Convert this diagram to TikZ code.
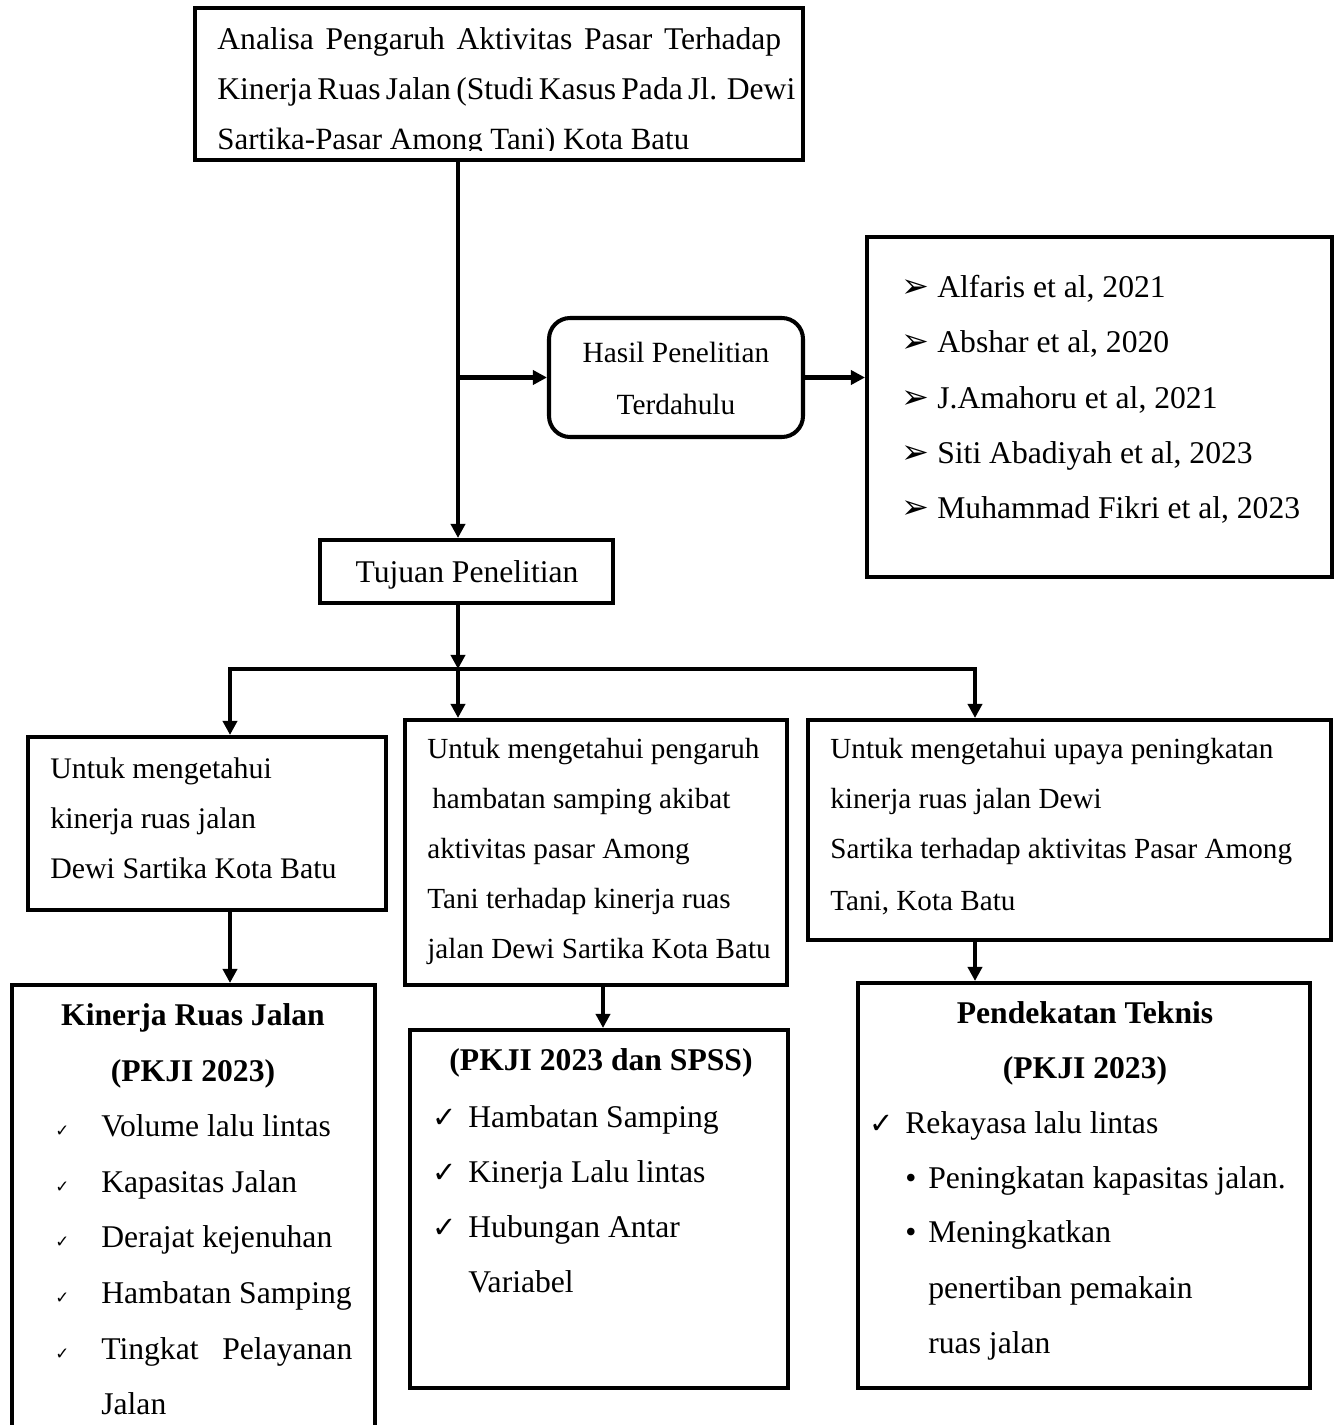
\documentclass[tikz,border=0pt]{standalone}
\usepackage{fontspec}
\setmainfont{Liberation Serif}
\newfontfamily\dejavu{DejaVu Sans}
\usetikzlibrary{arrows.meta,fit}
\newcommand{\ck}{{\dejavu\fontsize{16.5}{16}\selectfont ✓}}
\newcommand{\cks}{{\dejavu\fontsize{9.5}{10}\selectfont ✓}}
\newcommand{\arb}{{\dejavu\fontsize{19}{19}\selectfont ➢}}
\begin{document}
\begin{tikzpicture}[x=0.02cm,y=-0.02cm,
  box/.style={draw,line width=2.3pt,rectangle,inner sep=0pt},
  rbox/.style={box,rounded corners=12pt},
  txt/.style={anchor=base west,inner sep=0pt,font=\fontsize{18}{22}\selectfont},
  stxt/.style={anchor=base west,inner sep=0pt,font=\fontsize{16.6}{20}\selectfont},
  ctxt/.style={anchor=base,inner sep=0pt,font=\fontsize{18}{22}\selectfont},
  btxt/.style={anchor=base,inner sep=0pt,font=\fontsize{18}{22}\selectfont\bfseries},
  ln/.style={line width=2.3pt},
  arr/.style={line width=2.3pt,-{Triangle[length=8pt,width=8pt]}}]
\useasboundingbox (0,0) rectangle (1338,1425);

% boxes
\node[box,fit={(195,8) (803,160)}] (top) {};
\node[rbox,fit={(549,318) (803,437)}] (hasil) {};
\node[box,fit={(867,237) (1332,577)}] (refs) {};
\node[box,fit={(320,540) (613,603)}] (tujuan) {};
\node[box,fit={(28,737) (386,910)}] (left) {};
\node[box,fit={(405,720) (787,985)}] (mid) {};
\node[box,fit={(808,720) (1331,940)}] (right) {};
\node[box,fit={(12,985) (375,1460)}] (kin) {};
\node[box,fit={(410,1030) (788,1388)}] (pkji) {};
\node[box,fit={(858,983) (1310,1388)}] (pend) {};

% coordinates for connector columns
\coordinate (c1) at (458,0);
\coordinate (c2) at (230,0);
\coordinate (c3) at (603,0);
\coordinate (c4) at (975,0);
\coordinate (j) at (458,669);

% connectors
\draw[arr] (top.south -| c1) -- (tujuan.north -| c1);
\draw[arr] (hasil.west -| c1) -- (hasil.west);
\draw[arr] (hasil.east) -- (hasil.east -| refs.west);
\draw[arr] (tujuan.south -| c1) -- (j);
\draw[arr] (j) -| (left.north -| c2);
\draw[arr] (j) -| (right.north -| c4);
\draw[arr] (j) -- (mid.north -| c1);
\draw[arr] (left.south -| c2) -- (kin.north -| c2);
\draw[arr] (mid.south -| c3) -- (pkji.north -| c3);
\draw[arr] (right.south -| c4) -- (pend.north -| c4);

% top box text
\node[txt] (t1) at (217,50) {\makebox[11.28cm][s]{Analisa Pengaruh Aktivitas Pasar Terhadap}};
\node[txt] (t2) at (217,100) {\makebox[11.28cm][s]{Kinerja Ruas Jalan (Studi Kasus Pada Jl. Dewi}};
\begin{scope}
\clip (195,8) rectangle (803,151);
\node[txt,font=\fontsize{17.6}{22}\selectfont] (t3) at (217,150) {Sartika-Pasar Among Tani) Kota Batu};
\end{scope}

% hasil
\node[ctxt,font=\fontsize{16.7}{20}\selectfont] (h1) at (676,363) {Hasil Penelitian};
\node[ctxt,font=\fontsize{16.7}{20}\selectfont] (h2) at (676,414) {Terdahulu};

% refs
\foreach \y/\t [count=\i] in {298/{Alfaris et al, 2021},353/{Abshar et al, 2020},408/{J.Amahoru et al, 2021},463/{Siti Abadiyah et al, 2023},518/{Muhammad Fikri et al, 2023}}{
  \node[txt] (rb\i) at (901,\y) {\arb};
  \node[txt] (r\i) at (937,\y) {\t};
}

% tujuan
\node[ctxt] (tj) at (467,582) {Tujuan Penelitian};

% left box
\node[txt,font=\fontsize{17}{20}\selectfont] (l1) at (50,778) {Untuk mengetahui};
\node[txt,font=\fontsize{17}{20}\selectfont] (l2) at (50,828) {kinerja ruas jalan};
\node[txt,font=\fontsize{17}{20}\selectfont] (l3) at (50,878) {Dewi Sartika Kota Batu};

% middle box
\node[stxt] (m1) at (427,758) {Untuk mengetahui pengaruh};
\node[stxt] (m2) at (432,808) {hambatan samping akibat};
\node[stxt] (m3) at (427,858) {aktivitas pasar Among};
\node[stxt] (m4) at (427,908) {Tani terhadap kinerja ruas};
\node[stxt] (m5) at (427,958) {jalan Dewi Sartika Kota Batu};

% right box
\node[stxt] (q1) at (830,758) {Untuk mengetahui upaya peningkatan};
\node[stxt] (q2) at (830,808) {kinerja ruas jalan Dewi};
\node[stxt] (q3) at (830,858) {Sartika terhadap aktivitas Pasar Among};
\node[stxt] (q4) at (830,910) {Tani, Kota Batu};

% kinerja box
\node[btxt] (k0) at (193,1025) {Kinerja Ruas Jalan};
\node[btxt] (k00) at (193,1081) {(PKJI 2023)};
\foreach \y/\t [count=\i] in {1136/{Volume lalu lintas},1192/{Kapasitas Jalan},1247/{Derajat kejenuhan},1303/{Hambatan Samping}}{
  \node[txt] (kc\i) at (55,\y) {\cks};
  \node[txt] (k\i) at (101,\y) {\t};
}
\node[txt] (kc5) at (55,1359) {\cks};
\node[txt] (k5) at (101,1359) {\makebox[5.02cm][s]{Tingkat Pelayanan}};
\node[txt] (k6) at (101,1414) {Jalan};

% pkji box
\node[btxt] (p0) at (601,1070) {(PKJI 2023 dan SPSS)};
\foreach \y/\t [count=\i] in {1127/{Hambatan Samping},1182/{Kinerja Lalu lintas},1237/{Hubungan Antar}}{
  \node[txt] (pc\i) at (432,\y) {\ck};
  \node[txt] (p\i) at (468,\y) {\t};
}
\node[txt] (p4) at (468,1292) {Variabel};

% pendekatan box
\node[btxt] (d0) at (1085,1023) {Pendekatan Teknis};
\node[btxt] (d00) at (1085,1078) {(PKJI 2023)};
\node[txt] (dc1) at (869,1133) {\ck};
\node[txt] (d1) at (905,1133) {Rekayasa lalu lintas};
\node[txt] (db1) at (905,1188) {•};
\node[txt] (d2) at (928,1188) {Peningkatan kapasitas jalan.};
\node[txt] (db2) at (905,1242) {•};
\node[txt] (d3) at (928,1242) {Meningkatkan};
\node[txt] (d4) at (928,1298) {penertiban pemakain};
\node[txt] (d5) at (928,1353) {ruas jalan};
\end{tikzpicture}
\end{document}
